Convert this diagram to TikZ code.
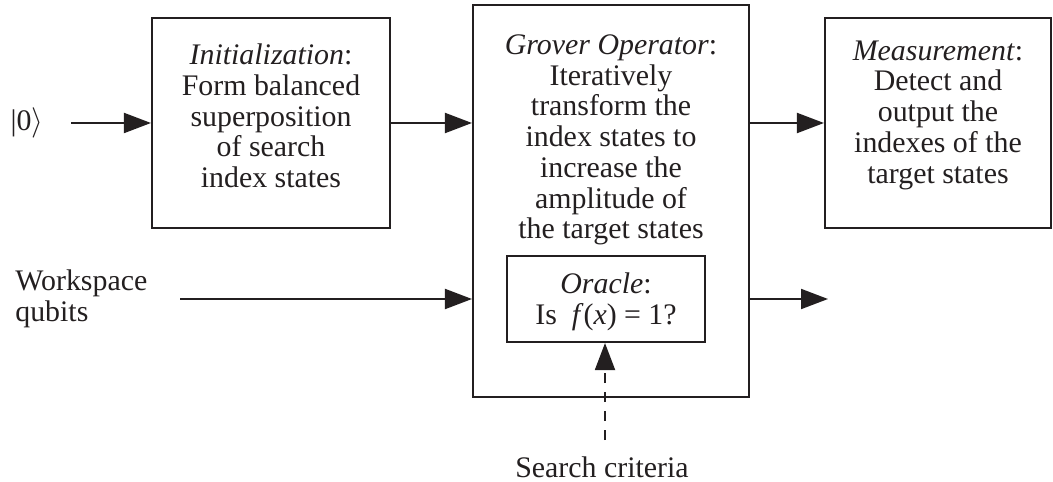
\documentclass[tikz,border=0pt]{standalone}
\usepackage{fontspec}
\setmainfont{Liberation Serif}
\usetikzlibrary{arrows.meta}
\definecolor{ink}{RGB}{35,31,32}
\begin{document}
\begin{tikzpicture}[x=0.02cm,y=-0.02cm,color=ink,
		box/.style={draw,line width=1.2pt,inner sep=0pt},
		txt/.style={align=center,inner sep=0pt,font=\fontsize{17}{17.5}\selectfont},
		flow/.style={line width=1.1pt,-{Triangle[length=0.54cm,width=0.4cm]}}]
			\useasboundingbox (0,0) rectangle (1053,482);

			% Блоки
			\node[box,minimum width=4.76cm,minimum height=4.2cm] (init) at (271,123) {};
			\node[box,minimum width=5.52cm,minimum height=7.84cm] (grover) at (611,201) {};
			\node[box,minimum width=4.52cm,minimum height=4.2cm] (meas) at (938,123) {};
			\node[box,minimum width=3.96cm,minimum height=1.72cm] (oracle) at (606,299) {};

			% Тексты в блоках
			\node[txt] (initTxt) at (271,116) {\textit{Initialization}:\\Form balanced\\superposition\\of search\\index states};
			\node[txt] (groverTxt) at (611,140) {\textit{Grover Operator}:\\Iteratively\\transform the\\index states to\\increase the\\amplitude of\\the target states};
			\node[txt] (measTxt) at (938,115) {\textit{Measurement}:\\Detect and\\output the\\indexes of the\\target states};
			\node[txt] (oracleTxt) at (606,302) {\textit{Oracle}:\\Is~~\textit{f}(\textit{x}) = 1?};

			% Входы и выход
			\node[txt] (ket) at (27,123) {\textbar0$\rangle$};
			\node[txt,align=left,anchor=west] (work) at (15,299) {Workspace\\qubits};
			\node[txt] (crit) at (602,467) {Search criteria};
			\coordinate (ketEnd) at (71,123);
			\coordinate (workEnd) at (180,299);
			\coordinate (out) at (828,299);
			\coordinate (critTop) at (605,440);

			% Стрелки
			\draw[flow] (ketEnd) -- (init.west);
			\draw[flow] (init.east) -- (grover.west |- init.east);
			\draw[flow] (grover.east |- meas.west) -- (meas.west);
			\draw[flow] (workEnd) -- (grover.west |- workEnd);
			\draw[flow] (grover.east |- out) -- (out);
			\draw[flow,dash pattern=on 0.2cm off 0.18cm] (critTop) -- (critTop |- oracle.south);
		\end{tikzpicture}
\end{document}
